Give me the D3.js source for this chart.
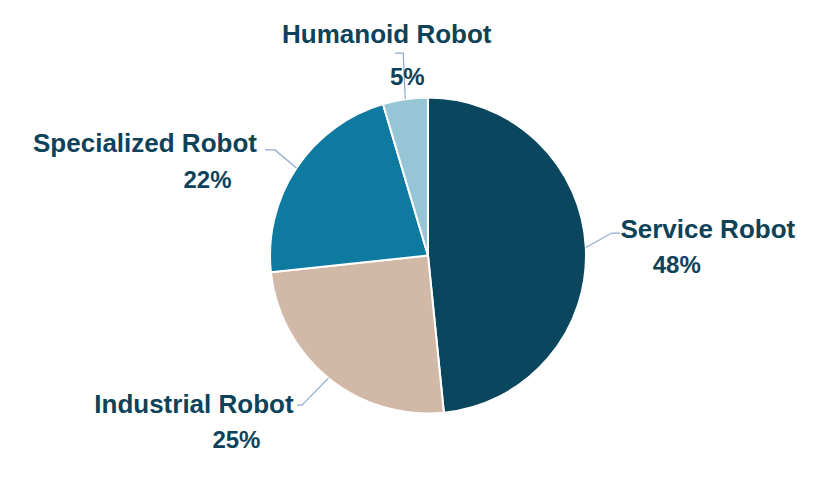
<!DOCTYPE html>
<html>
<head>
<meta charset="utf-8">
<script src="https://cdn.jsdelivr.net/npm/d3@7"></script>
<style>
  body { margin: 0; background: #fff; }
  text { font-family: "Liberation Sans", Arial, sans-serif; font-weight: bold; fill: #0d4259; }
</style>
</head>
<body>
<svg id="chart"></svg>
<script>
const width = 833;
const height = 480;

// Chart data
const categories = ["Service Robot", "Industrial Robot", "Specialized Robot", "Humanoid Robot"];
const values = [48.4, 24.9, 22.1, 4.6];
const colors = ["#0a475e", "#d2b8a6", "#0e7aa0", "#96c6d6"];

// Label placement, offsets from the point where each slice's mid-angle meets the rim
const labelLayout = [
    { name: [122, -9.5], pct: [91, 25.5], elbow: [26, -14.5], tail: [34, -14.5] },
    { name: [-134.5, 35], pct: [-92, 70], elbow: [-26.5, 27], tail: [-31.5, 27] },
    { name: [-151.5, -16], pct: [-89, 20], elbow: [-21.5, -18], tail: [-31.5, -18] },
    { name: [-18.5, -56], pct: [2, -14], elbow: [-2, -46], tail: [-10, -46] }
];

const cx = 428, cy = 255.5, radius = 158;

const svg = d3.select("#chart")
    .attr("width", width)
    .attr("height", height);

const g = svg.append("g").attr("transform", `translate(${cx},${cy})`);

const pie = d3.pie().sort(null).value(d => d);
const arcs = pie(values);
const arc = d3.arc().innerRadius(0).outerRadius(radius);

const total = d3.sum(values);
const fmt = v => Math.round(v / total * 100) + "%";

// Slices
g.selectAll("path.slice")
    .data(arcs)
    .enter().append("path")
    .attr("class", "slice")
    .attr("d", arc)
    .attr("fill", (d, i) => colors[i])
    .attr("stroke", "#fff")
    .attr("stroke-width", 2)
    .attr("stroke-linejoin", "round");

// Rim point at the middle of each slice
const rimPoint = d => {
    const a = (d.startAngle + d.endAngle) / 2;
    return [Math.sin(a) * radius, -Math.cos(a) * radius];
};

// Leader lines
g.selectAll("polyline.leader")
    .data(arcs)
    .enter().append("polyline")
    .attr("class", "leader")
    .attr("fill", "none")
    .attr("stroke", "#8eaacf")
    .attr("stroke-width", 1.2)
    .attr("points", (d, i) => {
        const p = rimPoint(d);
        const L = labelLayout[i];
        return [p, [p[0] + L.elbow[0], p[1] + L.elbow[1]], [p[0] + L.tail[0], p[1] + L.tail[1]]]
            .map(q => q.join(",")).join(" ");
    });

// Category names
g.selectAll("text.name")
    .data(arcs)
    .enter().append("text")
    .attr("class", "name")
    .attr("text-anchor", "middle")
    .attr("font-size", 26)
    .attr("x", (d, i) => rimPoint(d)[0] + labelLayout[i].name[0])
    .attr("y", (d, i) => rimPoint(d)[1] + labelLayout[i].name[1])
    .text((d, i) => categories[i]);

// Percentages
g.selectAll("text.pct")
    .data(arcs)
    .enter().append("text")
    .attr("class", "pct")
    .attr("text-anchor", "middle")
    .attr("font-size", 24)
    .attr("x", (d, i) => rimPoint(d)[0] + labelLayout[i].pct[0])
    .attr("y", (d, i) => rimPoint(d)[1] + labelLayout[i].pct[1])
    .text(d => fmt(d.value));
</script>
</body>
</html>
